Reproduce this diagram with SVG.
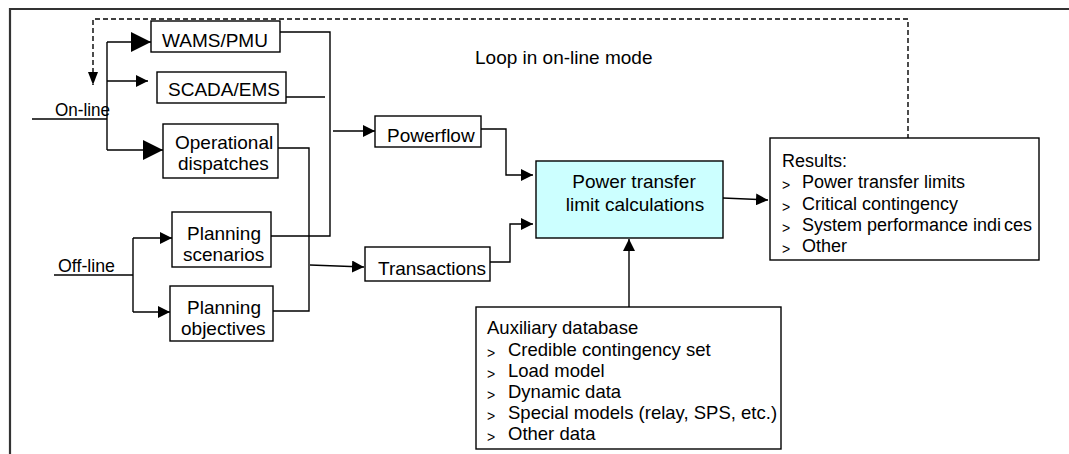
<svg xmlns="http://www.w3.org/2000/svg" width="1069" height="454" viewBox="0 0 1069 454">
<style>
  text { font-family: "Liberation Sans", Arial, sans-serif; font-size: 19px; fill: #000; }
  .box { fill: #fff; stroke: #000; stroke-width: 1.4; }
  .calc { fill: #ccffff; stroke: #000; stroke-width: 1.4; }
  .ln { fill: none; stroke: #000; stroke-width: 1.4; }
  .dash { fill: none; stroke: #000; stroke-width: 1.4; stroke-dasharray: 5 3; }
  .list { font-size: 18px; }
  .aux { font-size: 18.5px; }
  .bul { font-size: 14px; }
</style>
<defs>
  <marker id="big" markerUnits="userSpaceOnUse" markerWidth="20" markerHeight="20" refX="20" refY="10" orient="auto">
    <path d="M0,0 L20,10 L0,20 Z" fill="#000"/>
  </marker>
  <marker id="sm" markerUnits="userSpaceOnUse" markerWidth="12" markerHeight="12" refX="12" refY="6" orient="auto">
    <path d="M0,0 L12,6 L0,12 Z" fill="#000"/>
  </marker>
  <marker id="dn" markerUnits="userSpaceOnUse" markerWidth="13" markerHeight="10" refX="13" refY="5" orient="auto">
    <path d="M0,0 L13,5 L0,10 Z" fill="#000"/>
  </marker>
</defs>
<rect width="1069" height="454" fill="#fff"/>
<path d="M10,454 V9 H1069" fill="none" stroke="#333" stroke-width="2.2"/>

<g id="connectors">
  <path class="dash" d="M908,147 V19 H93 V85" marker-end="url(#dn)"/>
  <path class="ln" d="M32,119 H107"/>
  <path class="ln" d="M107,42 V150"/>
  <path class="ln" d="M107,42 H151" marker-end="url(#big)"/>
  <path class="ln" d="M107,81 H148" marker-end="url(#sm)"/>
  <path class="ln" d="M107,150 H163" marker-end="url(#big)"/>
  <path class="ln" d="M280,32 H330 V236 H271"/>
  <path class="ln" d="M283,97 H325"/>
  <path class="ln" d="M278,148 H309 V311 H273"/>
  <path class="ln" d="M333,131 H375" marker-end="url(#sm)"/>
  <path class="ln" d="M310,265 L364,267" marker-end="url(#sm)"/>
  <path class="ln" d="M481,129 H506 V175 H533" marker-end="url(#sm)"/>
  <path class="ln" d="M490,262 H510 V224 H533" marker-end="url(#sm)"/>
  <path class="ln" d="M723,198 L768,200" marker-end="url(#sm)"/>
  <path class="ln" d="M629,307 V239" marker-end="url(#sm)"/>
  <path class="ln" d="M54,275 H133"/>
  <path class="ln" d="M133,238 V312"/>
  <path class="ln" d="M133,238 H172" marker-end="url(#sm)"/>
  <path class="ln" d="M133,312 H170" marker-end="url(#sm)"/>
</g>

<g id="label-online"><text x="55" y="116" textLength="55" lengthAdjust="spacingAndGlyphs">On-line</text></g>
<g id="label-offline"><text x="58" y="272" textLength="57" lengthAdjust="spacingAndGlyphs">Off-line</text></g>
<g id="label-loop"><text x="475" y="64">Loop in on-line mode</text></g>

<g id="wams">
  <rect class="box" x="151" y="21" width="129" height="31"/>
  <text x="162" y="47">WAMS/PMU</text>
</g>
<g id="scada">
  <rect class="box" x="157" y="72" width="129" height="31"/>
  <text x="168" y="96">SCADA/EMS</text>
</g>
<g id="ops">
  <rect class="box" x="163" y="124" width="115" height="54"/>
  <text x="175" y="149">Operational</text>
  <text x="178" y="170">dispatches</text>
</g>
<g id="plan-scen">
  <rect class="box" x="172" y="212" width="99" height="55"/>
  <text x="187" y="240">Planning</text>
  <text x="183" y="261">scenarios</text>
</g>
<g id="plan-obj">
  <rect class="box" x="170" y="286" width="103" height="55"/>
  <text x="187" y="314">Planning</text>
  <text x="181" y="335">objectives</text>
</g>
<g id="powerflow">
  <rect class="box" x="375" y="116" width="106" height="31"/>
  <text x="387" y="142">Powerflow</text>
</g>
<g id="transactions">
  <rect class="box" x="365" y="247" width="125" height="34"/>
  <text x="378" y="275">Transactions</text>
</g>
<g id="calc">
  <rect class="calc" x="536" y="161" width="187" height="77"/>
  <text x="634" y="188" text-anchor="middle">Power transfer</text>
  <text x="635" y="211" text-anchor="middle">limit calculations</text>
</g>
<g id="results">
  <rect class="box" x="770" y="138" width="269" height="122"/>
  <text class="list" x="782" y="167">Results:</text>
  <text class="bul" x="782" y="190">&gt;</text><text class="list" x="802" y="188">Power transfer limits</text>
  <text class="bul" x="782" y="212">&gt;</text><text class="list" x="802" y="210">Critical contingency</text>
  <text class="bul" x="782" y="233">&gt;</text><text class="list" x="802" y="231">System performance indi<tspan dx="3">ces</tspan></text>
  <text class="bul" x="782" y="254">&gt;</text><text class="list" x="802" y="252">Other</text>
</g>
<g id="aux">
  <rect class="box" x="476" y="307" width="305" height="142"/>
  <text class="aux" x="487" y="334">Auxiliary database</text>
  <text class="bul" x="487" y="358">&gt;</text><text class="aux" x="508" y="356">Credible contingency set</text>
  <text class="bul" x="487" y="379">&gt;</text><text class="aux" x="508" y="377">Load model</text>
  <text class="bul" x="487" y="400">&gt;</text><text class="aux" x="508" y="398">Dynamic data</text>
  <text class="bul" x="487" y="421">&gt;</text><text class="aux" x="508" y="419">Special models (relay, SPS, etc.)</text>
  <text class="bul" x="487" y="442">&gt;</text><text class="aux" x="508" y="440">Other data</text>
</g>
</svg>
